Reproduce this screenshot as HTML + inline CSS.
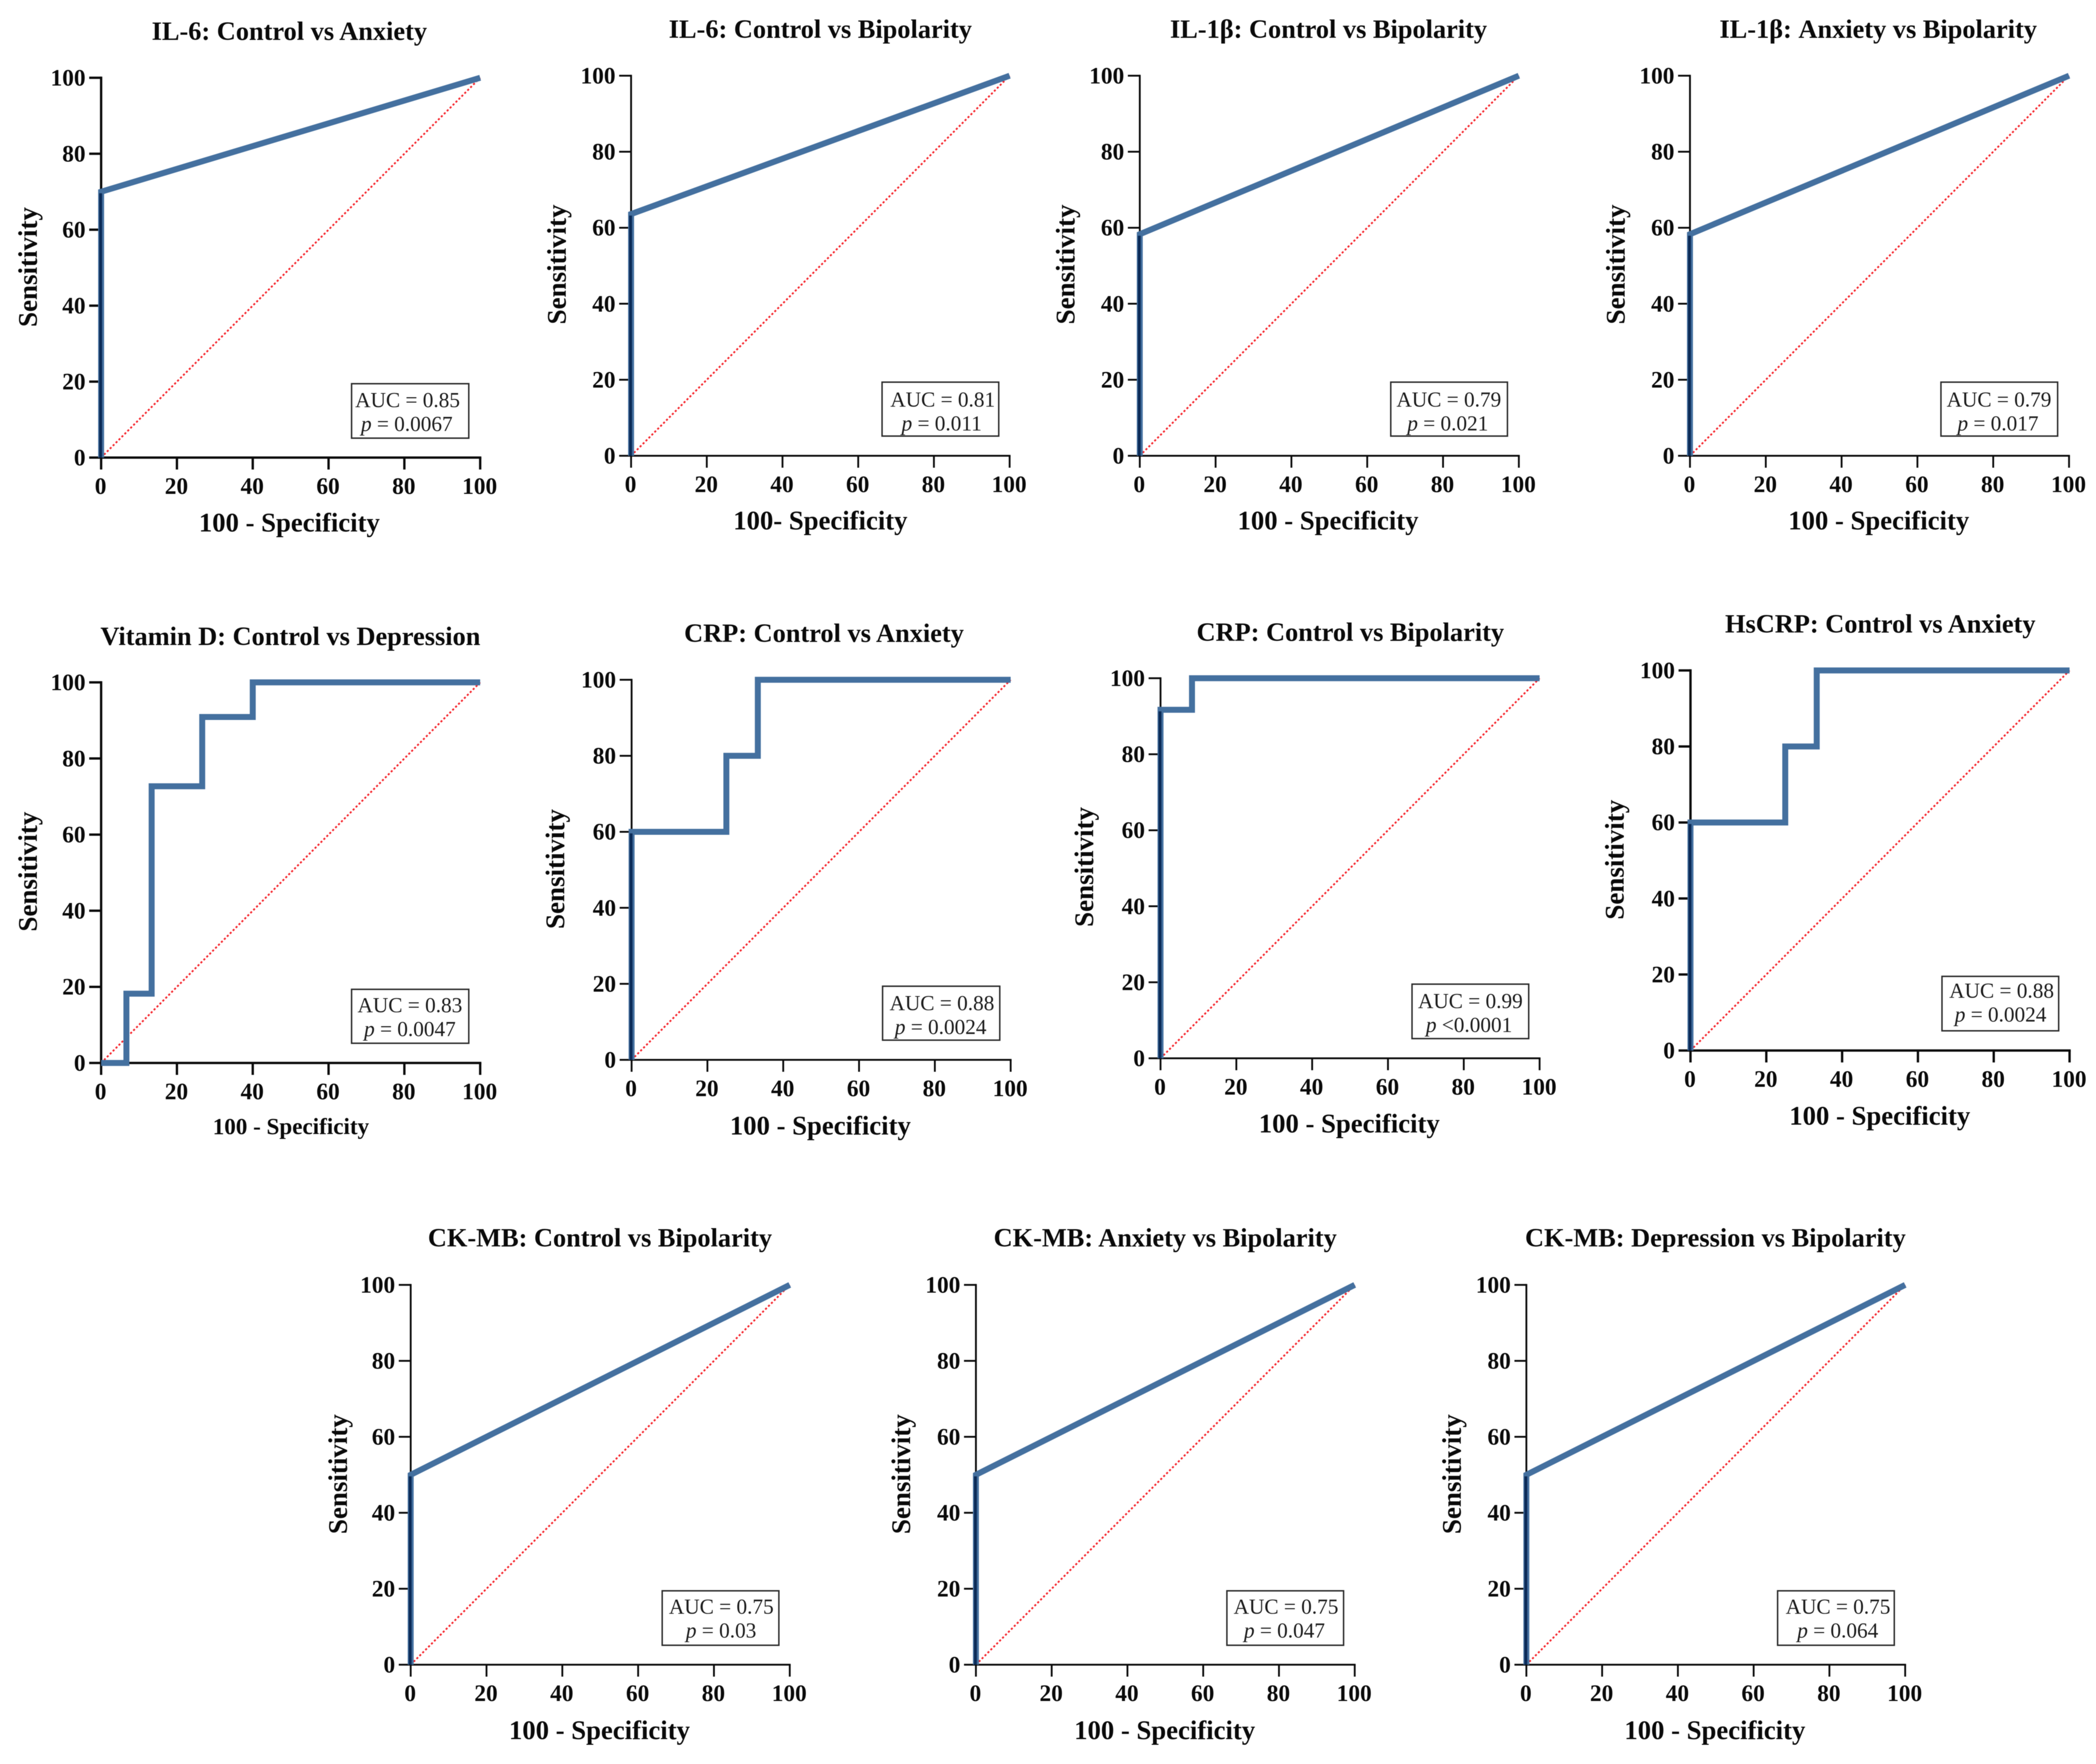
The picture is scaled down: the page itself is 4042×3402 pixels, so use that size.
<!DOCTYPE html>
<html lang="en">
<head>
<meta charset="utf-8">
<title>ROC curves for inflammatory and cardiac biomarkers</title>
<style>
  html, body { margin: 0; padding: 0; background: #fff; width: 4042px; height: 3402px; overflow: hidden; }
  svg { display: block; font-family: "Liberation Serif", "Times New Roman", serif; filter: blur(0.6px); }
  .bold { font-weight: 700; fill: #0a0a0a; }
  .note { font-weight: 400; fill: #1c1c1c; font-size: 41px; }
</style>
</head>
<body>
<svg id="figure" xmlns="http://www.w3.org/2000/svg" width="4042" height="3402" viewBox="0 0 4042 3402">
  <rect x="0" y="0" width="4042" height="3402" fill="#ffffff"></rect>
</svg>
<script>
// ---- Chart data ----
const panelTitles = [
  "IL-6: Control vs Anxiety",
  "IL-6: Control vs Bipolarity",
  "IL-1β: Control vs Bipolarity",
  "IL-1β: Anxiety vs Bipolarity",
  "Vitamin D: Control vs Depression",
  "CRP: Control vs Anxiety",
  "CRP: Control vs Bipolarity",
  "HsCRP: Control vs Anxiety",
  "CK-MB: Control vs Bipolarity",
  "CK-MB: Anxiety vs Bipolarity",
  "CK-MB: Depression vs Bipolarity"
];
const xAxisTitles = [
  "100 - Specificity", "100- Specificity", "100 - Specificity", "100 - Specificity",
  "100 - Specificity", "100 - Specificity", "100 - Specificity", "100 - Specificity",
  "100 - Specificity", "100 - Specificity", "100 - Specificity"
];
const yAxisTitle = "Sensitivity";
const aucLabels = ["0.85", "0.81", "0.79", "0.79", "0.83", "0.88", "0.99", "0.88", "0.75", "0.75", "0.75"];
const pLabels = ["= 0.0067", "= 0.011", "= 0.021", "= 0.017", "= 0.0047", "= 0.0024", "<0.0001", "= 0.0024", "= 0.03", "= 0.047", "= 0.064"];
const xTickValues = [0, 20, 40, 60, 80, 100];
const yTickValues = [0, 20, 40, 60, 80, 100];
const referenceLine = [0, 100];

const specificitySeries = [
  [0, 0, 100],
  [0, 0, 100],
  [0, 0, 100],
  [0, 0, 100],
  [0, 6.67, 6.67, 13.33, 13.33, 26.67, 26.67, 40, 40, 100],
  [0, 0, 25, 25, 33.3, 33.3, 100],
  [0, 0, 8.3, 8.3, 100],
  [0, 0, 25, 25, 33.3, 33.3, 100],
  [0, 0, 100],
  [0, 0, 100],
  [0, 0, 100]
];
const sensitivitySeries = [
  [0, 70, 100],
  [0, 63.6, 100],
  [0, 58.3, 100],
  [0, 58.3, 100],
  [0, 0, 18.2, 18.2, 72.7, 72.7, 90.9, 90.9, 100, 100],
  [0, 60, 60, 80, 80, 100, 100],
  [0, 91.7, 91.7, 100, 100],
  [0, 60, 60, 80, 80, 100, 100],
  [0, 50, 100],
  [0, 50, 100],
  [0, 50, 100]
];

// ---- Layout (pixels), kept apart from the data ----
const panelLayout = [
  {x0:195,  x1:926,  yTop:150,  y0:882.5, tx:558,  ty:77,   lx:558,  ly:1025, sx:71,   sy:515,  bx:678,  by:740,  bw:226, bh:105, ax:786,  px:784.5, ny:-2, w:4.5, ls:51.5},
  {x0:1217, x1:1947, yTop:146,  y0:879,   tx:1582, ty:73,   lx:1582, ly:1021, sx:1091, sy:510,  bx:1701, by:737,  bw:225, bh:104, ax:1818, px:1816,  ny:0,  w:3.5, ls:51.5},
  {x0:2198, x1:2929, yTop:146,  y0:879,   tx:2562, ty:73,   lx:2561, ly:1021, sx:2072, sy:510,  bx:2682, by:737,  bw:225, bh:104, ax:2794, px:2792,  ny:0,  w:3.5, ls:51.5},
  {x0:3259, x1:3990, yTop:146,  y0:879,   tx:3622, ty:73,   lx:3623, ly:1021, sx:3133, sy:510,  bx:3743, by:737,  bw:225, bh:104, ax:3855, px:3853,  ny:0,  w:3.5, ls:51.5},
  {x0:195,  x1:926,  yTop:1316, y0:2050,  tx:560,  ty:1244, lx:561,  ly:2187, sx:71,   sy:1681, bx:678,  by:1908, bw:226, bh:104, ax:790.5,px:790.5, ny:-3, w:4.5, ls:44.5},
  {x0:1218, x1:1949, yTop:1311, y0:2044,  tx:1589, ty:1238, lx:1582, ly:2188, sx:1088, sy:1676, bx:1702, by:1902, bw:226, bh:104, ax:1816.5,px:1814, ny:-1, w:3.5, ls:51.5},
  {x0:2238, x1:2969, yTop:1308, y0:2041,  tx:2604, ty:1236, lx:2602, ly:2184, sx:2108, sy:1672, bx:2723, by:1898, bw:225, bh:105, ax:2835.5,px:2833, ny:-1, w:3.5, ls:51.5},
  {x0:3260, x1:3991, yTop:1293, y0:2026,  tx:3626, ty:1220, lx:3625, ly:2169, sx:3131, sy:1658, bx:3745, by:1883, bw:225, bh:105, ax:3860, px:3858,  ny:-6, w:4.5, ls:51.5},
  {x0:792,  x1:1523, yTop:2478, y0:3210.5,tx:1157, ty:2404, lx:1156, ly:3354, sx:669,  sy:2843, bx:1277, by:3068, bw:225, bh:105, ax:1391, px:1390.6,ny:-3, w:3.5, ls:51.5},
  {x0:1882, x1:2612.5,yTop:2478,y0:3210.5,tx:2247, ty:2404, lx:2246, ly:3354, sx:1755, sy:2843, bx:2366, by:3068, bw:225, bh:105, ax:2480, px:2477,  ny:-3, w:3.5, ls:51.5},
  {x0:2943.5,x1:3674,yTop:2478, y0:3210.5,tx:3308, ty:2404, lx:3307, ly:3354, sx:2817, sy:2843, bx:3428, by:3068, bw:225, bh:105, ax:3544.6,px:3544, ny:-3, w:3.5, ls:51.5}
];

const SVG_NS = "http://www.w3.org/2000/svg";
const figure = document.getElementById("figure");

function make(tag, attrs, parent) {
  const node = document.createElementNS(SVG_NS, tag);
  for (const key in attrs) node.setAttribute(key, attrs[key]);
  parent.appendChild(node);
  return node;
}

function drawPanel(i) {
  const L = panelLayout[i];
  const xScale = v => L.x0 + (v / 100) * (L.x1 - L.x0);
  const yScale = v => L.y0 - (v / 100) * (L.y0 - L.yTop);

  const panel = make("g", {}, figure);
  
  

  const title = make("text", {x: L.tx, y: L.ty, "text-anchor": "middle", "font-size": 50.8, "class": "bold"}, panel);
  title.textContent = panelTitles[i];
  
  

  // reference diagonal
  const diag = make("line", {
    x1: xScale(referenceLine[0]), y1: yScale(referenceLine[0]),
    x2: xScale(referenceLine[1]), y2: yScale(referenceLine[1]),
    stroke: "#f5232a", "stroke-width": 3.4, "stroke-dasharray": "4 4"
  }, panel);
  
  

  // axes
  const xAxis = make("line", {x1: xScale(0), y1: L.y0, x2: xScale(100), y2: L.y0, stroke: "#0a0a0a", "stroke-width": L.w, "stroke-linecap": "square"}, panel);
  
  
  const yAxis = make("line", {x1: L.x0, y1: yScale(0), x2: L.x0, y2: yScale(100), stroke: "#0a0a0a", "stroke-width": L.w, "stroke-linecap": "square"}, panel);
  
  

  xTickValues.forEach(v => {
    const tick = make("line", {x1: xScale(v), y1: L.y0, x2: xScale(v), y2: L.y0 + 23, stroke: "#0a0a0a", "stroke-width": L.w}, panel);
    
    
    const label = make("text", {x: xScale(v) - 1, y: L.y0 + 70, "text-anchor": "middle", "font-size": 45, "class": "bold"}, panel);
    label.textContent = String(v);
    
    
  });
  yTickValues.forEach(v => {
    const tick = make("line", {x1: L.x0 - 23, y1: yScale(v), x2: L.x0, y2: yScale(v), stroke: "#0a0a0a", "stroke-width": L.w}, panel);
    
    
    const label = make("text", {x: L.x0 - 30, y: yScale(v) + 15, "text-anchor": "end", "font-size": 45, "class": "bold"}, panel);
    label.textContent = String(v);
    
    
  });

  // ROC curve
  const xs = specificitySeries[i];
  const ys = sensitivitySeries[i];
  const pts = xs.map((x, k) => xScale(x) + "," + yScale(ys[k])).join(" ");
  const curve = make("polyline", {points: pts, fill: "none", stroke: "#44709f", "stroke-width": 11.5, "stroke-linejoin": "miter"}, panel);
  
  

  // dark core where the curve runs along the y axis
  let topOnAxis = 0;
  for (let k = 0; k < xs.length && xs[k] === 0; k++) topOnAxis = ys[k];
  if (topOnAxis > 0) {
    const core = make("line", {x1: L.x0 - 1, y1: yScale(0), x2: L.x0 - 1, y2: yScale(topOnAxis) + 3, stroke: "#0b2a57", "stroke-width": 5.5}, panel);
    
    
  }

  // axis titles
  const xTitle = make("text", {x: L.lx, y: L.ly, "text-anchor": "middle", "font-size": L.ls, "class": "bold"}, panel);
  xTitle.textContent = xAxisTitles[i];
  
  
  const yTitle = make("text", {x: 0, y: 0, "text-anchor": "middle", "font-size": 52, "class": "bold", transform: "translate(" + L.sx + " " + L.sy + ") rotate(-90)"}, panel);
  yTitle.textContent = yAxisTitle;
  
  

  // annotation box
  const box = make("rect", {x: L.bx, y: L.by, width: L.bw, height: L.bh, fill: "#ffffff", stroke: "#2b2b2b", "stroke-width": 2.8}, panel);
  
  
  const auc = make("text", {x: L.ax, y: L.by + 47 + L.ny, "text-anchor": "middle", "class": "note"}, panel);
  auc.textContent = "AUC = " + aucLabels[i];
  
  
  const pText = make("text", {x: L.px, y: L.by + 93 + L.ny, "text-anchor": "middle", "class": "note"}, panel);
  
  
  const pItalic = make("tspan", {"font-style": "italic"}, pText);
  pItalic.textContent = "p";
  const pRest = make("tspan", {}, pText);
  pRest.textContent = " " + pLabels[i];
}

panelTitles.forEach((_, i) => drawPanel(i));
</script>
</body>
</html>
